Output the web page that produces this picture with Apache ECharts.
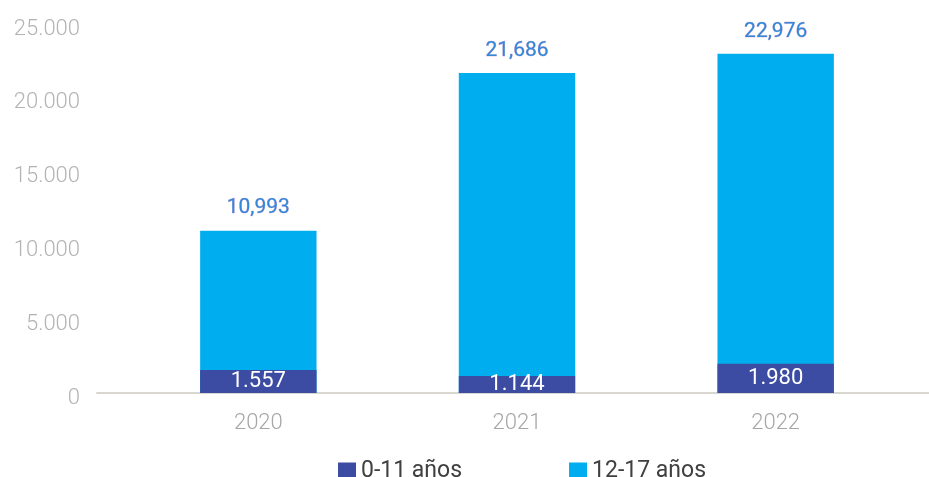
<!DOCTYPE html>
<html>
<head>
<meta charset="utf-8">
<script src="https://cdn.jsdelivr.net/npm/echarts@6/dist/echarts.min.js"></script>
<style>
  html,body{margin:0;padding:0;background:#ffffff;}
  #chart{width:929px;height:477px;}
</style>
</head>
<body>
<div id="chart"></div>
<script>
  // datos
  const years = ['2020', '2021', '2022'];
  const ninos = [1557, 1144, 1980];          // 0-11 años
  const adolescentes = [10993, 21686, 22976]; // 12-17 años
  const yTicks = [0, 5000, 10000, 15000, 20000, 25000];

  const dotSep = v => String(v).replace(/\B(?=(\d{3})+(?!\d))/g, '.');
  const commaSep = v => String(v).replace(/\B(?=(\d{3})+(?!\d))/g, ',');

  let chart = echarts.init(document.getElementById('chart'));
  chart.setOption({
    animation: false,
    textStyle: {fontFamily: 'Roboto'},
    grid: [
      {left: 129, right: 24, top: 24, bottom: 84},
      {left: 97, right: 0, top: 24, bottom: 84}
    ],
    legend: {
      data: ['0-11 años', '12-17 años'],
      left: 333,
      top: 455,
      itemWidth: 18,
      itemHeight: 18,
      itemGap: 107,
      icon: 'rect',
      textStyle: {fontSize: 23, lineHeight: 23, color: '#404040', fontFamily: 'Roboto'}
    },
    xAxis: [{
      type: 'category',
      gridIndex: 0,
      data: years,
      axisLine: {show: false},
      axisTick: {show: false},
      axisLabel: {fontSize: 22, color: '#a6a6a6', fontWeight: 300, margin: 19}
    }, {
      type: 'category',
      gridIndex: 1,
      data: [''],
      axisLine: {show: true, lineStyle: {color: '#d9d6d0', width: 2}},
      axisTick: {show: false},
      axisLabel: {show: false}
    }],
    yAxis: [{
      type: 'value',
      gridIndex: 0,
      min: yTicks[0],
      max: yTicks[yTicks.length - 1],
      interval: 5000,
      axisLine: {show: false},
      axisTick: {show: false},
      splitLine: {show: false},
      axisLabel: {
        fontSize: 22, color: '#b3b3b3', fontWeight: 300, margin: 49,
        verticalAlign: 'top',
        lineHeight: 10,
        formatter: v => dotSep(v)
      }
    }, {
      type: 'value',
      gridIndex: 1,
      min: 0,
      max: 25000,
      show: false
    }],
    series: [{
      name: '12-17 años',
      type: 'bar',
      xAxisIndex: 0,
      yAxisIndex: 0,
      data: adolescentes,
      barWidth: '45%',
      barGap: '-100%',
      itemStyle: {color: '#00aeef'},
      label: {
        show: true,
        position: 'top',
        distance: 12,
        fontSize: 21,
        fontWeight: 'normal',
        color: '#2f88d8',
        textBorderColor: '#dba6d6',
        textBorderWidth: 0.6,
        formatter: p => commaSep(p.value)
      }
    }, {
      name: '0-11 años',
      type: 'bar',
      xAxisIndex: 0,
      yAxisIndex: 0,
      data: ninos,
      barWidth: '45%',
      barGap: '-100%',
      itemStyle: {color: '#3b4ca2'},
      label: {
        show: true,
        position: 'inside',
        fontSize: 22,
        color: '#ffffff',
        formatter: p => dotSep(p.value)
      }
    }]
  });
</script>
</body>
</html>
